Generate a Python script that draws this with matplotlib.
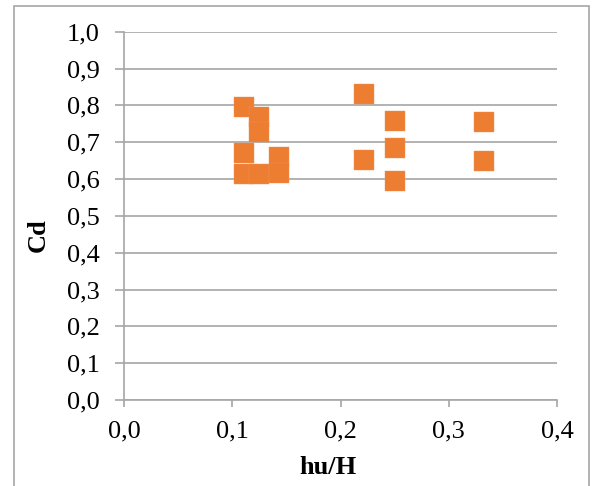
import matplotlib
matplotlib.use("Agg")
import matplotlib.pyplot as plt
from matplotlib.patches import Rectangle
from matplotlib.ticker import FuncFormatter

# Data
hu_H = [0.111, 0.111, 0.111, 0.125, 0.125, 0.125, 0.143, 0.143,
        0.222, 0.222, 0.250, 0.250, 0.250, 0.333, 0.333]
Cd = [0.795, 0.672, 0.614, 0.768, 0.728, 0.614, 0.660, 0.616,
      0.831, 0.651, 0.758, 0.685, 0.595, 0.756, 0.649]
x_ticks = [0.0, 0.1, 0.2, 0.3, 0.4]
y_ticks = [0.0, 0.1, 0.2, 0.3, 0.4, 0.5, 0.6, 0.7, 0.8, 0.9, 1.0]

plt.rcParams['font.family'] = ['Liberation Serif', 'DejaVu Serif']

W, H = 592, 486
fig = plt.figure(figsize=(W / 100, H / 100), dpi=100)
ax = fig.add_axes([124 / W, 1 - 400 / H, (557 - 124) / W, (400 - 31.7) / H])

grid_c = '#A6A6A6'
ax.scatter(hu_H, Cd, marker='s', s=205, color='#ED7D31',
           edgecolors='#F0955A', linewidths=0.3, zorder=3, clip_on=False)

ax.set_xlim(0, 0.4)
ax.set_ylim(0, 1.0)
ax.set_xticks(x_ticks)
ax.set_yticks(y_ticks)
fmt = FuncFormatter(lambda v, p: f"{v:.1f}".replace('.', ','))
ax.xaxis.set_major_formatter(fmt)
ax.yaxis.set_major_formatter(fmt)

ax.yaxis.grid(True, color=grid_c, linewidth=1.2)
ax.set_axisbelow(True)
for s in ['top', 'right']:
    ax.spines[s].set_visible(False)
for s in ['left', 'bottom']:
    ax.spines[s].set_color(grid_c)
    ax.spines[s].set_linewidth(1.2)

ax.tick_params(axis='y', length=6.5, width=1.2, color=grid_c, pad=11,
               labelsize=19, labelcolor='black')
ax.tick_params(axis='x', length=5, width=1.2, color=grid_c, pad=10,
               labelsize=19, labelcolor='black')

fig.text(328 / W, 1 - 468 / H, 'hu/H', ha='center', va='center',
         fontsize=19, fontweight='bold')
fig.text(38 / W, 1 - 235 / H, 'Cd', ha='center', va='center',
         rotation=90, fontsize=19, fontweight='bold')

# chart-area border
border = Rectangle((14 / W, -0.05), (589 - 14) / W, (1 - 6 / H) + 0.05,
                   transform=fig.transFigure, fill=False,
                   edgecolor='#A6A6A6', linewidth=1.2, clip_on=False)
fig.patches.append(border)

fig.savefig('out.png', dpi=100)
